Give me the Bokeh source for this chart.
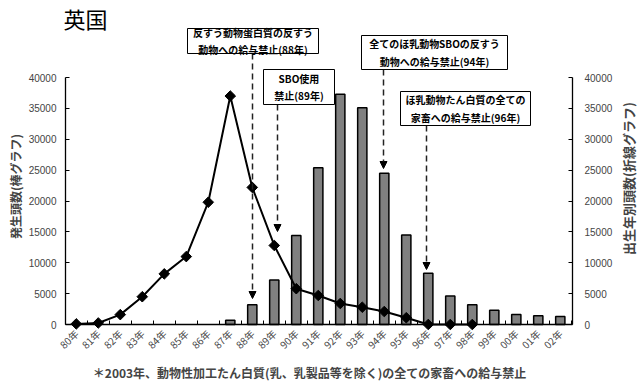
import math
from bokeh.plotting import figure
from bokeh.models import (Range1d, LinearAxis, FixedTicker, Label, BoxAnnotation,
                          Arrow, NormalHead, ColumnDataSource)
from bokeh.embed import file_html
from bokeh.resources import INLINE

nan = float("nan")

# ---- data ----
years = ["80年", "81年", "82年", "83年", "84年", "85年", "86年", "87年", "88年", "89年",
         "90年", "91年", "92年", "93年", "94年", "95年", "96年", "97年", "98年", "99年",
         "00年", "01年", "02年"]
# 発生頭数 (bars, left axis)
cases = [nan, nan, nan, nan, nan, nan, nan, 700, 3200, 7200,
         14400, 25400, 37300, 35100, 24500, 14500, 8300, 4600, 3200, 2300,
         1600, 1400, 1300]
# 出生年別頭数 (line, right axis)
births = [100, 250, 1600, 4500, 8200, 11000, 19800, 37000, 22200, 12800,
          5800, 4700, 3400, 2800, 2100, 1100, 0, 0, 0, nan,
          nan, nan, nan]
y_ticks = [0, 5000, 10000, 15000, 20000, 25000, 30000, 35000, 40000]

idx = list(range(len(years)))
src = ColumnDataSource(dict(x=idx, cases=cases, births=births))

# ---- geometry (page px -> data); the frame covers the whole canvas ----
W, H = 637, 389
AX_L, AX_R, AX_B, AX_T = 65.0, 572.0, 324.0, 77.0
XS = -0.49                      # data x at the left axis line
PXU = 22.0                      # px per category
PXY = (AX_B - AX_T) / 40000.0   # px per unit on y


def dx(px):
    return XS + (px - AX_L) / PXU


def dy(py):
    return (AX_B - py) / PXY


p = figure(width=W, height=H, x_range=Range1d(dx(0), dx(W)), y_range=Range1d(dy(H), dy(0)),
           output_backend="svg", toolbar_location=None,
           min_border=0, min_border_left=0, min_border_right=0, min_border_top=0,
           min_border_bottom=0, outline_line_color=None, background_fill_color="white",
           border_fill_color="white")
p.extra_y_ranges = {"right": Range1d(dy(H), dy(0))}
p.grid.visible = False

TICKFONT = "Liberation Sans"
JP = "Noto Sans CJK JP"

# x axis (drawn at y = 0)
xa = p.xaxis[0]
xa.fixed_location = 0
xa.bounds = (dx(AX_L), dx(AX_R))
xa.ticker = FixedTicker(ticks=idx, minor_ticks=[i + 0.5 for i in range(-1, len(years))])
xa.major_label_overrides = {i: y for i, y in enumerate(years)}
xa.major_label_orientation = math.pi / 4
xa.major_tick_in = 0
xa.major_tick_out = 0
xa.minor_tick_in = 4
xa.minor_tick_out = 0
xa.major_label_standoff = 7
xa.major_label_text_font = JP
xa.major_label_text_font_size = "10px"
xa.axis_line_width = 1.3
xa.axis_line_color = "black"

# left axis
ya = p.yaxis[0]
ya.fixed_location = dx(AX_L)
ya.ticker = FixedTicker(ticks=y_ticks, minor_ticks=[])
ya.bounds = (0, 40000)
ya.major_tick_in = 4
ya.major_tick_out = 0
ya.major_label_standoff = 9
ya.major_label_text_font = TICKFONT
ya.major_label_text_font_size = "10px"
ya.axis_line_width = 1.3
ya.axis_line_color = "black"

# right axis
ra = LinearAxis(y_range_name="right", ticker=FixedTicker(ticks=y_ticks, minor_ticks=[]),
                bounds=(0, 40000), fixed_location=dx(AX_R))
ra.major_tick_in = 4
ra.major_tick_out = 0
ra.major_label_standoff = 12
ra.major_label_text_font = TICKFONT
ra.major_label_text_font_size = "10px"
ra.axis_line_width = 1.3
ra.axis_line_color = "black"
p.add_layout(ra, "right")

# bars
p.vbar(x="x", top="cases", width=0.42, source=src, fill_color="#808080",
       line_color="black", line_width=1.5)

# line + diamonds
p.line(x="x", y="births", source=src, line_color="black", line_width=2,
       y_range_name="right")
p.scatter(x="x", y="births", source=src, marker="square", angle=math.pi / 4, size=7.5,
          fill_color="black", line_color="black", y_range_name="right")

# title
p.add_layout(Label(x=dx(63), y=dy(17), text="英国", text_font=JP, text_font_size="22px",
                   text_align="left", text_baseline="middle", text_color="black"))

# axis titles
p.add_layout(Label(x=dx(15), y=dy(186), text="発生頭数(棒グラフ)", angle=math.pi / 2,
                   text_font=JP, text_font_size="12px", text_font_style="bold",
                   text_align="center", text_baseline="middle"))
p.add_layout(Label(x=dx(628), y=dy(178), text="出生年別頭数(折線グラフ)", angle=math.pi / 2,
                   text_font=JP, text_font_size="13px", text_font_style="bold",
                   text_align="center", text_baseline="middle"))

# footnote
p.add_layout(Label(x=dx(309), y=dy(372),
                   text="＊2003年、動物性加工たん白質(乳、乳製品等を除く)の全ての家畜への給与禁止",
                   text_font=JP, text_font_size="12px", text_font_style="bold",
                   text_align="center", text_baseline="middle"))

# annotation boxes + arrows
boxes = [
    ((187, 318, 28, 53), "反すう動物蛋白質の反すう\n動物への給与禁止(88年)", (252, 53, 298)),
    ((263, 334, 69, 104), "SBO使用\n禁止(89年)", (277, 104, 231)),
    ((361, 507, 35, 69), "全てのほ乳動物SBOの反すう\n動物への給与禁止(94年)", (383, 69, 168)),
    ((400, 530, 91, 125), "ほ乳動物たん白質の全ての\n家畜への給与禁止(96年)", (426, 125, 269)),
]
for (l, r, t, b), txt, (ax, a0, a1) in boxes:
    p.add_layout(Arrow(end=NormalHead(size=7, fill_color="black", line_color="black"),
                       x_start=dx(ax), y_start=dy(a0), x_end=dx(ax), y_end=dy(a1),
                       line_dash="6 4", line_width=1.5, line_color="#222222"))
    p.add_layout(BoxAnnotation(left=dx(l), right=dx(r), top=dy(t), bottom=dy(b),
                               fill_color="white", fill_alpha=1.0,
                               line_color="black", line_width=1, line_alpha=1.0))
    p.add_layout(Label(x=dx((l + r) / 2), y=dy((t + b) / 2), text=txt, text_font=JP,
                       text_font_size="10px", text_font_style="bold",
                       text_align="center", text_baseline="middle",
                       text_line_height=1.15, text_color="black"))

open("out.html", "w").write(file_html(p, INLINE))
